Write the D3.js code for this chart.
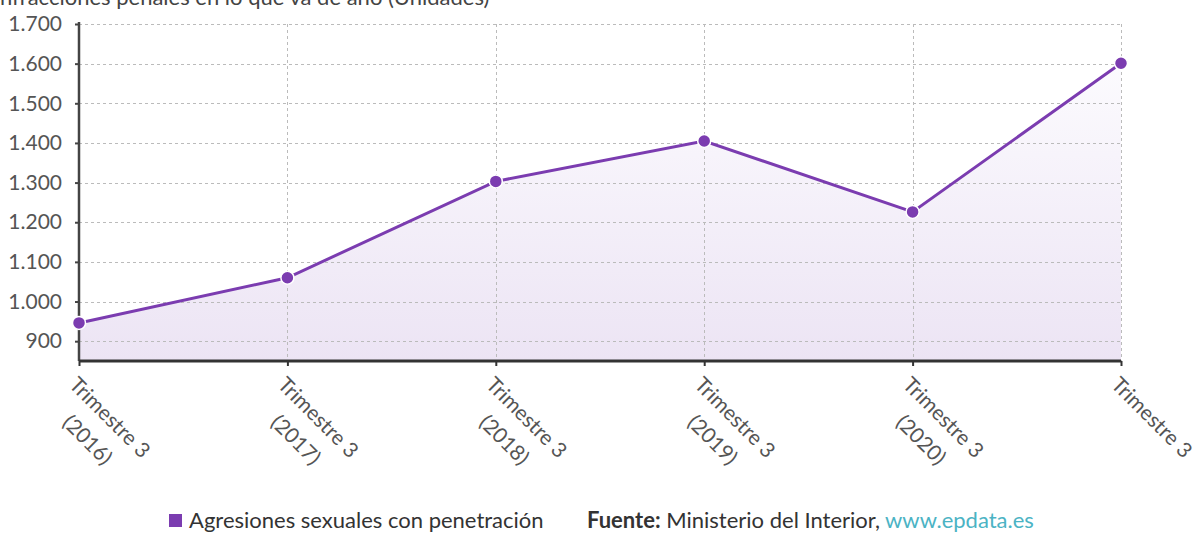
<!DOCTYPE html>
<html>
<head>
<meta charset="utf-8">
<script src="https://cdn.jsdelivr.net/npm/d3@7"></script>
<style>
  body { margin: 0; background: #fff; }
  svg { display: block; font-family: Lato, "Open Sans", sans-serif; }
</style>
</head>
<body>
<svg id="chart" width="1196" height="534"></svg>
<script>
// chart data
var periods = ["Trimestre 3 (2016)", "Trimestre 3 (2017)", "Trimestre 3 (2018)", "Trimestre 3 (2019)", "Trimestre 3 (2020)", "Trimestre 3"];
var labelLines = [["Trimestre 3", "(2016)"], ["Trimestre 3", "(2017)"], ["Trimestre 3", "(2018)"], ["Trimestre 3", "(2019)"], ["Trimestre 3", "(2020)"], ["Trimestre 3"]];
var agresiones = [946, 1060, 1303, 1405, 1226, 1601];
var yTicks = [900, 1000, 1100, 1200, 1300, 1400, 1500, 1600, 1700];

var svg = d3.select("#chart");

// plot box
var pLeft = 79, pRight = 1121, pTop = 24, pBottom = 361;
var purple = "#7b3cb0";

var x = d3.scalePoint().domain(periods).range([pLeft, pRight]);
var y = d3.scaleLinear().domain([850, 1700]).range([pBottom, pTop]);

var fmt = function(v) { return d3.format(",")(v).replace(/,/g, "."); };

// gradient for the area under the line
var defs = svg.append("defs");
var grad = defs.append("linearGradient").attr("id", "areaGrad")
  .attr("x1", 0).attr("y1", 0).attr("x2", 0).attr("y2", 1);
grad.append("stop").attr("offset", "0%").attr("stop-color", "#fcfbfe");
grad.append("stop").attr("offset", "100%").attr("stop-color", "#ece4f4");

// title, cut at the top like the original
svg.append("text")
  .attr("x", -6).attr("y", 5)
  .attr("font-size", 22).attr("fill", "#444")
  .text("Infracciones penales en lo que va de año (Unidades)");

// area
var area = d3.area()
  .x(function(d, i) { return x(periods[i]); })
  .y0(pBottom)
  .y1(function(d) { return y(d); });
svg.append("path").datum(agresiones)
  .attr("d", area)
  .attr("fill", "url(#areaGrad)");

// horizontal grid
svg.append("g").selectAll("line").data(yTicks).enter().append("line")
  .attr("x1", pLeft).attr("x2", pRight)
  .attr("y1", function(d) { return Math.round(y(d)) + 0.5; })
  .attr("y2", function(d) { return Math.round(y(d)) + 0.5; })
  .attr("stroke", "#bbb").attr("stroke-dasharray", "3,3");

// vertical grid
svg.append("g").selectAll("line").data(periods).enter().append("line")
  .attr("x1", function(d) { return Math.round(x(d)) + 0.5; })
  .attr("x2", function(d) { return Math.round(x(d)) + 0.5; })
  .attr("y1", y(1700)).attr("y2", pBottom)
  .attr("stroke", "#bbb").attr("stroke-dasharray", "3,3");

// y axis
var yAxis = d3.axisLeft(y).tickValues(yTicks).tickSize(4).tickPadding(13).tickFormat(fmt);
var gy = svg.append("g").attr("transform", "translate(" + pLeft + ",0)").call(yAxis);
gy.select(".domain").attr("stroke", "#444").attr("stroke-width", 2.5).attr("d", "M0," + (pTop - 2) + "V" + pBottom);
gy.selectAll(".tick line").attr("stroke", "#444").attr("stroke-width", 2);
gy.selectAll(".tick text").attr("font-size", 21).attr("fill", "#555").attr("font-family", "Lato, sans-serif");

// x axis
var xAxis = d3.axisBottom(x).tickSize(5).tickFormat("");
var gx = svg.append("g").attr("transform", "translate(0," + pBottom + ")").call(xAxis);
gx.select(".domain").attr("stroke", "#333").attr("stroke-width", 3).attr("d", "M" + pLeft + ",0H" + pRight);
gx.selectAll(".tick line").attr("stroke", "#333").attr("stroke-width", 2);

// rotated category labels, lines centred on the longest one
var lbl = svg.append("g").selectAll("text").data(periods).enter().append("text")
  .attr("font-size", 21).attr("fill", "#555").attr("text-anchor", "middle");
lbl.each(function(d, i) {
  var t = d3.select(this);
  labelLines[i].forEach(function(s, j) {
    t.append("tspan").attr("x", 0).attr("dy", j === 0 ? 0 : "1.5em").text(s);
  });
  var w = t.select("tspan").node().getComputedTextLength();
  t.attr("transform", "translate(" + (x(d) - 11) + "," + (pBottom + 25) + ") rotate(45) translate(" + (w / 2) + ",0)");
});

// line
var line = d3.line()
  .x(function(d, i) { return x(periods[i]); })
  .y(function(d) { return y(d); });
svg.append("path").datum(agresiones)
  .attr("d", line)
  .attr("fill", "none").attr("stroke", purple).attr("stroke-width", 3);

// points
svg.append("g").selectAll("circle").data(agresiones).enter().append("circle")
  .attr("cx", function(d, i) { return x(periods[i]); })
  .attr("cy", function(d) { return y(d); })
  .attr("r", 6.5)
  .attr("fill", purple).attr("stroke", "#fff").attr("stroke-width", 1.5);

// legend and source
var leg = svg.append("g");
leg.append("rect").attr("x", 169).attr("y", 514).attr("width", 13).attr("height", 13).attr("fill", purple);
leg.append("text").attr("x", 189).attr("y", 528).attr("font-size", 22).attr("fill", "#333")
  .text("Agresiones sexuales con penetración");
var src = leg.append("text").attr("x", 587).attr("y", 528).attr("font-size", 22).attr("fill", "#333");
src.append("tspan").attr("font-weight", "bold").text("Fuente:");
src.append("tspan").text(" Ministerio del Interior, ");
src.append("tspan").attr("fill", "#4bb3c4").text("www.epdata.es");
</script>
</body>
</html>
